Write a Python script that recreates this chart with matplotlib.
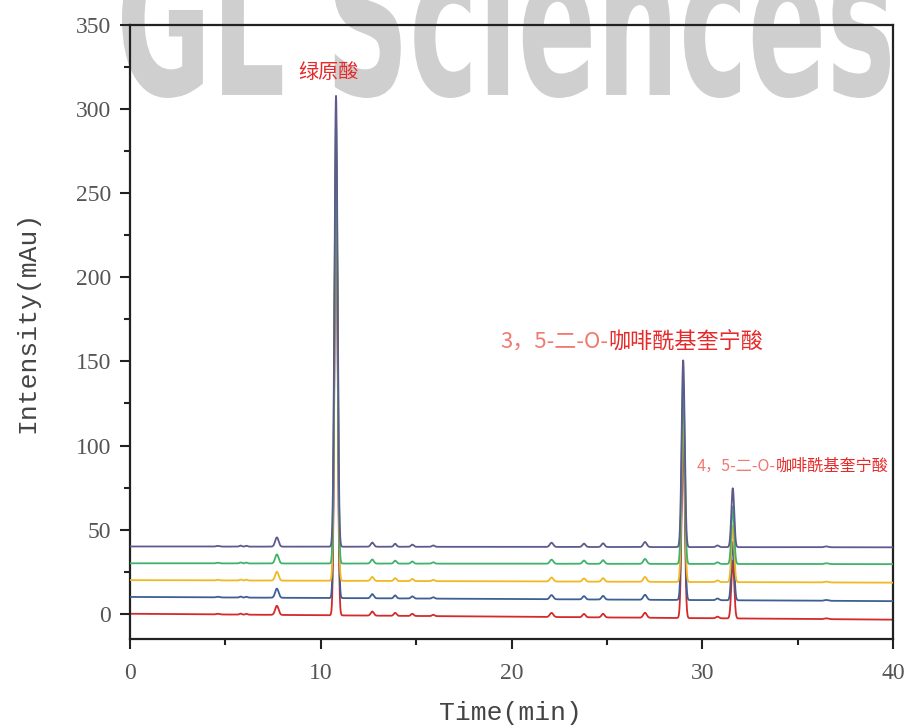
import numpy as np
import matplotlib
matplotlib.use("Agg")
import matplotlib.pyplot as plt
from matplotlib.ticker import MultipleLocator
from matplotlib.textpath import TextPath
from matplotlib.patches import PathPatch
from matplotlib.font_manager import FontProperties
from matplotlib.transforms import Affine2D

# ---- data ----
trace_names = ["S1", "S2", "S3", "S4", "S5"]
trace_colors = ["#d42a2a", "#3d5f95", "#f2b824", "#3fb36a", "#5c5a8e"]
baseline_start = [0.0, 10.0, 20.0, 30.0, 40.0]
baseline_end = [-3.5, 7.5, 18.5, 29.5, 39.5]
trace_scale = [0.985, 0.99, 0.96, 0.975, 1.0]

peak_times = [4.6, 5.8, 6.1, 7.7, 10.8, 12.7, 13.9, 14.8, 15.9,
              22.1, 23.8, 24.8, 27.0, 29.0, 30.8, 31.6, 36.5]
peak_heights = [0.4, 0.6, 0.5, 5.5, 268.0, 2.5, 1.8, 1.3, 0.8,
                2.5, 2.0, 2.2, 3.0, 111.0, 1.0, 35.0, 0.5]
peak_widths = [0.08, 0.06, 0.06, 0.09, 0.08, 0.08, 0.07, 0.07, 0.07,
               0.09, 0.08, 0.08, 0.09, 0.08, 0.08, 0.075, 0.1]

label_prefix = ["", "3，5-二-O-", "4，5-二-O-"]
label_main = ["绿原酸", "咖啡酰基奎宁酸", "咖啡酰基奎宁酸"]
label_x = [8.8, 19.4, 29.72]
label_y = [322.0, 161.5, 87.6]
label_size = [14.5, 15.9, 11.6]

x_ticks = [0, 10, 20, 30, 40]
y_ticks = [0, 50, 100, 150, 200, 250, 300, 350]
watermark = "GL Sciences"

# ---- figure ----
W, H = 907, 728
fig = plt.figure(figsize=(W / 100, H / 100), dpi=100)
ax = fig.add_axes([130 / W, (H - 639) / H, 763 / W, 614 / H])
ax.set_facecolor("none")

# watermark (condensed, top cut off by the figure edge)
tp = TextPath((0, 0), watermark, size=1,
              prop=FontProperties(family="DejaVu Sans", weight="bold"))
ext = tp.get_extents()
sx = (890 - 122) / ext.width
sy = 210.0
wm_tr = (Affine2D().translate(-ext.x0, 0).scale(sx, sy)
         .translate(122, H - 95).scale(1 / W, 1 / H) + fig.transFigure)
fig.add_artist(PathPatch(tp, transform=wm_tr, facecolor="#cfcfcf",
                         edgecolor="none", zorder=-1))

t = np.linspace(0, 40, 8001)
for i in range(len(trace_names)):
    y = baseline_start[i] + (baseline_end[i] - baseline_start[i]) * t / 40.0
    for pt, ph, pw in zip(peak_times, peak_heights, peak_widths):
        y = y + ph * trace_scale[i] * np.exp(-0.5 * ((t - pt) / pw) ** 2)
    ax.plot(t, y, color=trace_colors[i], lw=1.3, zorder=2 + i)

cjk = ["Noto Sans CJK SC", "DejaVu Sans"]
for pre, main, lx, ly, fs in zip(label_prefix, label_main, label_x, label_y, label_size):
    if pre:
        t1 = ax.text(lx, ly, pre, ha="left", va="center", fontsize=fs,
                     color="#f07a72", family=cjk, zorder=10)
        ax.annotate(main, xy=(1, 0.5), xycoords=t1, ha="left", va="center",
                    fontsize=fs, color="#e62a2a", family=cjk, zorder=10)
    else:
        ax.text(lx, ly, main, ha="left", va="center", fontsize=fs,
                color="#e62a2a", family=cjk, zorder=10)

ax.set_xlim(0, 40)
ax.set_ylim(-15, 350)
ax.set_xticks(x_ticks)
ax.set_yticks(y_ticks)
ax.xaxis.set_minor_locator(MultipleLocator(5))
ax.yaxis.set_minor_locator(MultipleLocator(25))
ax.tick_params(which="major", direction="out", length=7.5, width=1.5,
               labelsize=17, colors="#222222", labelcolor="#555555")
ax.tick_params(which="minor", direction="out", length=4, width=1.5, colors="#222222")
ax.tick_params(axis="x", which="major", pad=10)
ax.tick_params(axis="y", which="major", pad=6)
for lab in ax.get_xticklabels() + ax.get_yticklabels():
    lab.set_family("Liberation Serif")
for sp in ax.spines.values():
    sp.set_linewidth(1.6)
    sp.set_color("#222222")

ax.set_xlabel("Time(min)", fontsize=19, family="Liberation Mono", color="#444444")
ax.set_ylabel("Intensity(mAu)", fontsize=19, family="Liberation Mono", color="#444444")
ax.xaxis.label.set_verticalalignment("center")
ax.yaxis.label.set_verticalalignment("center")
ax.xaxis.set_label_coords(0.498, -0.1205)
ax.yaxis.set_label_coords(-0.135, 0.516)

fig.savefig("out.png", dpi=100)
